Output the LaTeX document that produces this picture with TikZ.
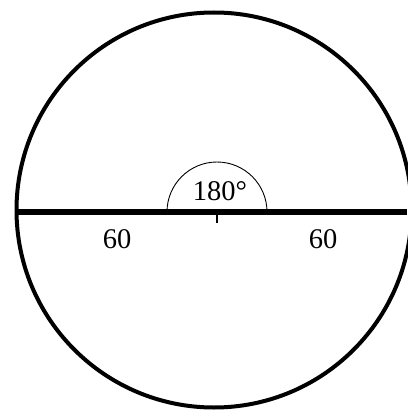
\documentclass[tikz,border=0pt]{standalone}
\usepackage{fontspec}
\setmainfont{Liberation Serif}
\begin{document}
\begin{tikzpicture}[x=1pt,y=-1pt,
  lbl/.style={font=\fontsize{28.5}{32}\selectfont, inner sep=0pt}]
\useasboundingbox (0,0) rectangle (407,412);
\fill[white] (0,0) rectangle (407,412);
\coordinate (O) at (214,210);
\coordinate (C) at (217,212);
\draw[line width=4pt] (O) circle[radius=197.5];
\draw[line width=5.5pt] (16.5,212) -- (407,212);
\draw[line width=0.9pt] (267,212) arc[start angle=0,end angle=-180,radius=50];
\draw[line width=1.2pt] (C) -- ++(0,11);
\node[lbl] (a) at (220,191) {180°};
\node[lbl] (l) at (117,239) {60};
\node[lbl] (r) at (323,239) {60};
\end{tikzpicture}
\end{document}
